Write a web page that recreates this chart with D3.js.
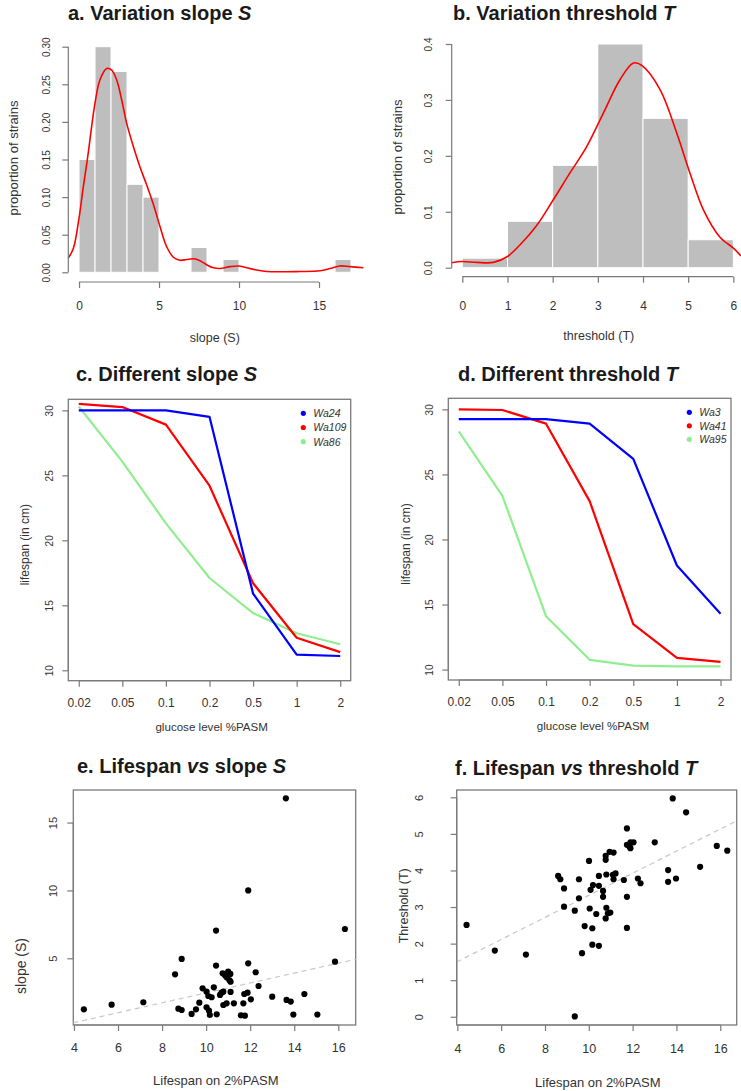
<!DOCTYPE html>
<html>
<head>
<meta charset="UTF-8" />
<title>slope S and threshold T</title>
<script src="https://d3js.org/d3.v7.min.js"></script>
<style>
body { margin: 0px; background: #fff; }
svg text { font-family: "Liberation Sans", Arial, Helvetica, sans-serif; }
</style>
</head>
<body>
<script>
// a. histogram + density of slope S
const slopeBinStart = [0, 1, 2, 3, 4, 5, 6, 7, 8, 9, 10, 11, 12, 13, 14, 15, 16];
const slopeProp = [0.150, 0.300, 0.267, 0.117, 0.100, 0, 0, 0.033, 0, 0.017, 0, 0, 0, 0, 0, 0, 0.017];
const slopeDensX = [-0.67, -0.35, 0, 0.27, 0.52, 1.0, 1.31, 1.73, 2.04, 2.35, 2.67, 2.98, 3.4, 3.81, 4.23, 4.65, 5.06, 5.48, 5.9, 6.31, 6.73, 7.15, 7.56, 7.98, 8.4, 8.8, 9.44, 9.96, 10.48, 11.1, 11.73, 13.8, 15.06, 15.69, 16.3, 16.94, 17.77];
const slopeDensY = [0.019, 0.032, 0.072, 0.114, 0.150, 0.225, 0.256, 0.271, 0.269, 0.256, 0.229, 0.198, 0.167, 0.140, 0.116, 0.090, 0.061, 0.034, 0.020, 0.016, 0.017, 0.018, 0.0155, 0.010, 0.006, 0.005, 0.0075, 0.0084, 0.006, 0.003, 0.001, 0.001, 0.002, 0.005, 0.0084, 0.0075, 0.006];
const slopeTicksX = [0, 5, 10, 15];
const slopeTicksY = [0, 0.05, 0.10, 0.15, 0.20, 0.25, 0.30];

// b. histogram + density of threshold T
const threshBinStart = [0, 1, 2, 3, 4, 5];
const threshProp = [0.017, 0.083, 0.183, 0.400, 0.267, 0.050];
const threshDensX = [-0.24, 0, 0.32, 0.69, 1.0, 1.28, 1.65, 2.01, 2.38, 2.75, 3.12, 3.49, 3.79, 4.0, 4.38, 4.75, 5.04, 5.34, 5.70, 6.0, 6.17];
const threshDensY = [0.009, 0.011, 0.0095, 0.0095, 0.020, 0.041, 0.076, 0.121, 0.169, 0.216, 0.276, 0.336, 0.366, 0.360, 0.318, 0.240, 0.169, 0.103, 0.055, 0.035, 0.021];
const threshTicksX = [0, 1, 2, 3, 4, 5, 6];
const threshTicksY = [0, 0.1, 0.2, 0.3, 0.4];

// c. / d. lifespan by glucose level
const glucose = ["0.02", "0.05", "0.1", "0.2", "0.5", "1", "2"];
const wa24 = [30.0, 30.0, 30.0, 29.5, 15.9, 11.2, 11.1];
const wa109 = [30.5, 30.25, 28.9, 24.2, 16.7, 12.5, 11.4];
const wa86 = [30.3, 26.05, 21.3, 17.1, 14.4, 12.85, 12.0];
const wa3 = [29.25, 29.25, 29.25, 28.9, 26.2, 18.0, 14.3];
const wa41 = [30.0, 29.95, 28.9, 22.95, 13.5, 10.9, 10.6];
const wa95 = [28.3, 23.35, 14.1, 10.75, 10.3, 10.25, 10.25];
const lifeTicks = [10, 15, 20, 25, 30];

// e. lifespan vs slope
const lifespanE = [4.45, 5.71, 7.15, 8.59, 8.89, 8.74, 8.89, 9.34, 9.54, 9.69, 9.84, 10.02, 10.1, 10.25, 10.02, 10.13, 10.17, 10.35, 10.48, 10.45, 10.45, 10.63, 10.7, 10.78, 10.75, 10.86, 11.0, 11.1, 10.93, 11.05, 11.11, 10.78, 10.93, 11.11, 11.26, 11.58, 11.76, 11.69, 11.73, 11.88, 11.91, 12.03, 12.25, 12.38, 13.0, 13.65, 13.84, 13.96, 14.46, 15.05, 15.85, 16.3, 11.91, 13.62];
const slopeE = [1.24, 1.58, 1.76, 3.82, 4.95, 1.29, 1.19, 0.90, 1.24, 1.73, 2.79, 2.54, 2.22, 2.13, 1.39, 1.14, 0.82, 2.86, 0.87, 4.46, 7.04, 2.30, 2.47, 2.54, 3.89, 3.75, 4.02, 3.85, 3.6, 3.40, 3.28, 1.56, 1.68, 2.52, 1.68, 0.80, 0.77, 1.68, 2.37, 2.47, 4.63, 1.98, 3.97, 2.96, 2.17, 1.93, 1.81, 0.85, 2.37, 0.85, 4.75, 7.16, 10.0, 16.79];
const fitE = [-1.2, 0.365];

// f. lifespan vs threshold
const lifespanF = [4.42, 5.71, 7.13, 8.6, 8.7, 8.87, 8.87, 9.36, 9.36, 9.55, 9.55, 9.69, 9.81, 10.01, 10.04, 10.08, 10.19, 10.16, 10.16, 10.34, 10.46, 10.46, 10.46, 10.65, 10.65, 10.77, 10.77, 10.8, 10.8, 10.87, 10.77, 10.98, 10.95, 11.13, 11.1, 11.22, 11.13, 11.6, 11.74, 11.74, 11.74, 11.74, 11.86, 11.9, 12.04, 11.9, 12.24, 12.36, 13.01, 13.62, 13.62, 13.98, 13.83, 14.44, 15.08, 15.84, 16.32];
const thresholdF = [2.51, 1.81, 1.70, 3.85, 3.76, 3.51, 3.01, 2.90, 0.01, 3.76, 3.24, 1.74, 2.48, 4.26, 2.96, 3.47, 3.60, 2.42, 1.97, 2.81, 3.85, 3.58, 1.94, 3.44, 3.28, 4.29, 4.40, 3.89, 2.98, 2.83, 2.69, 2.85, 4.51, 4.49, 3.88, 3.92, 3.76, 3.74, 5.15, 3.28, 2.43, 4.70, 4.65, 4.77, 4.77, 4.61, 3.78, 3.65, 4.77, 4.01, 3.69, 3.78, 5.97, 5.59, 4.10, 4.67, 4.54];
const fitF = [0.30, 0.302];
const lifeXTicks = [4, 6, 8, 10, 12, 14, 16];

const width = 741, height = 1091;
const axisColor = "#7a7a7a";
const textColor = "#333";

const svg = d3.select("body").append("svg").attr("width", width).attr("height", height);
svg.append("rect").attr("width", width).attr("height", height).attr("fill", "#fff");

let title = (x, y, parts) => {
    let t = svg.append("text").attr("x", x).attr("y", y)
        .attr("font-size", 20).attr("font-weight", "bold").attr("fill", "#1a1a1a");
    for (let [s, it] of parts) {
        t.append("tspan").text(s).attr("font-style", it ? "italic" : "normal");
    }
};

let xTitle = (x, y, txt, size) => {
    svg.append("text").attr("x", x).attr("y", y).attr("text-anchor", "middle")
        .attr("font-size", size).attr("fill", textColor).text(txt);
};

let yTitle = (x, y, txt, size) => {
    svg.append("text").attr("transform", `translate(${x},${y}) rotate(-90)`)
        .attr("text-anchor", "middle").attr("font-size", size).attr("fill", textColor).text(txt);
};

let bottomAxis = (scale, y, values, fmt, size, labelY) => {
    let g = svg.append("g").attr("transform", `translate(0,${y})`)
        .call(d3.axisBottom(scale).tickValues(values).tickFormat(fmt).tickSize(6).tickSizeOuter(0));
    // R draws the axis line only between first and last tick
    g.select(".domain").attr("d", `M${scale(values[0])},0H${scale(values[values.length - 1])}`)
        .attr("stroke", axisColor).attr("stroke-width", 1.2);
    g.selectAll(".tick line").attr("stroke", axisColor).attr("stroke-width", 1.2);
    g.selectAll(".tick text").attr("y", labelY).attr("dy", null)
        .attr("font-size", size).attr("fill", textColor);
};

let leftAxis = (scale, x, values, fmt, size, labelDx) => {
    let g = svg.append("g").attr("transform", `translate(${x},0)`)
        .call(d3.axisLeft(scale).tickValues(values).tickFormat(fmt).tickSize(6).tickSizeOuter(0));
    g.select(".domain").attr("d", `M0,${scale(values[0])}V${scale(values[values.length - 1])}`)
        .attr("stroke", axisColor).attr("stroke-width", 1.2);
    g.selectAll(".tick line").attr("stroke", axisColor).attr("stroke-width", 1.2);
    g.selectAll(".tick text").attr("x", null).attr("dy", null).attr("text-anchor", "middle")
        .attr("transform", `translate(${-labelDx},0) rotate(-90)`)
        .attr("font-size", size).attr("fill", textColor);
};

let box = (xs, ys) => {
    let [x0, x1] = xs.range();
    let [y0, y1] = ys.range();
    svg.append("rect").attr("x", x0).attr("y", y1).attr("width", x1 - x0).attr("height", y0 - y1)
        .attr("fill", "none").attr("stroke", axisColor).attr("stroke-width", 1.3);
};

// ---------- histograms ----------
let histPanel = (xs, ys, bins, props, densX, densY) => {
    svg.append("g").selectAll("rect")
        .data(bins.map((b, i) => ({b, p: props[i]})).filter(d => d.p > 0))
        .join("rect")
        .attr("x", d => xs(d.b))
        .attr("width", d => xs(d.b + 1) - xs(d.b))
        .attr("y", d => ys(d.p))
        .attr("height", d => ys(0) - ys(d.p))
        .attr("fill", "#bebebe").attr("stroke", "#fff").attr("stroke-width", 1);

    let line = d3.line().x(d => xs(d[0])).y(d => ys(d[1])).curve(d3.curveCatmullRom);
    svg.append("path").attr("d", line(d3.zip(densX, densY)))
        .attr("fill", "none").attr("stroke", "#ff0000").attr("stroke-width", 1.6);
};

// a
let xa = d3.scaleLinear().domain([-0.67, 17.8]).range([68.3, 363.8]);
let ya = d3.scaleLinear().domain([0, 0.30]).range([272.3, 46.7]);
histPanel(xa, ya, slopeBinStart, slopeProp, slopeDensX, slopeDensY);
leftAxis(ya, 68.3, slopeTicksY, d3.format(".2f"), 10, 18);
bottomAxis(xa, 282, slopeTicksX, d3.format("d"), 12, 28);
title(68, 20, [["a. Variation slope ", false], ["S", true]]);
xTitle(214.8, 342, "slope (S)", 12.5);
yTitle(18.3, 158, "proportion of strains", 13);

// b
let xb = d3.scaleLinear().domain([-0.235, 6.28]).range([451.7, 746]);
let yb = d3.scaleLinear().domain([0, 0.4]).range([267.7, 44]);
histPanel(xb, yb, threshBinStart, threshProp, threshDensX, threshDensY);
leftAxis(yb, 451.7, threshTicksY, d3.format(".1f"), 10, 20);
bottomAxis(xb, 276.7, threshTicksX, d3.format("d"), 12, 33);
title(453, 20, [["b. Variation threshold ", false], ["T", true]]);
xTitle(598.8, 340, "threshold (T)", 12.5);
yTitle(401.7, 157, "proportion of strains", 13);

// ---------- glucose line panels ----------
let linePanel = (x0, x1, y0, y1, series, names, legendX, legendY, legendStep) => {
    let xs = d3.scalePoint().domain(glucose).range([x0, x1]).padding(0.24);
    let ys = d3.scaleLinear().domain([9.2, 30.85]).range([y1, y0]);
    let colors = ["#0000ff", "#ff0000", "#90ee90"];
    box(xs, ys);
    let line = d3.line().x((d, i) => xs(glucose[i])).y(d => ys(d));
    // draw green first so red/blue sit on top
    [2, 1, 0].forEach(k => {
        svg.append("path").attr("d", line(series[k]))
            .attr("fill", "none").attr("stroke", colors[k]).attr("stroke-width", 2.2)
            .attr("stroke-linejoin", "round");
    });
    names.forEach((n, k) => {
        svg.append("circle").attr("cx", legendX).attr("cy", legendY + k * legendStep).attr("r", 2.6)
            .attr("fill", colors[k]);
        svg.append("text").attr("x", legendX + 10).attr("y", legendY + k * legendStep + 3.8)
            .attr("font-size", 10.5).attr("font-style", "italic").attr("fill", textColor).text(n);
    });
    leftAxis(ys, x0, lifeTicks, d3.format("d"), 10, 15);
    bottomAxis(xs, y1, glucose, d => d, 12, 26);
    return xs;
};

// c
linePanel(68.3, 350.7, 399.3, 680.7, [wa24, wa109, wa86], ["Wa24", "Wa109", "Wa86"], 303.3, 413.3, 14.2);
title(76, 381, [["c. Different slope ", false], ["S", true]]);
xTitle(211.7, 730.7, "glucose level %PASM", 11.6);
yTitle(29.3, 544.7, "lifespan (in cm)", 12);

// d
linePanel(448.3, 731, 398.3, 680, [wa3, wa41, wa95], ["Wa3", "Wa41", "Wa95"], 689.3, 412.3, 13.5);
title(458, 381, [["d. Different threshold ", false], ["T", true]]);
xTitle(593, 730, "glucose level %PASM", 11.6);
yTitle(410, 544, "lifespan (in cm)", 12);

// ---------- scatter panels ----------
let scatterPanel = (xs, ys, lx, ly, fit) => {
    box(xs, ys);
    let [d0, d1] = xs.domain();
    svg.append("line")
        .attr("x1", xs(d0)).attr("y1", ys(fit[0] + fit[1] * d0))
        .attr("x2", xs(d1)).attr("y2", ys(fit[0] + fit[1] * d1))
        .attr("stroke", "#c8c8c8").attr("stroke-width", 1.2).attr("stroke-dasharray", "5,4");
    svg.append("g").selectAll("circle")
        .data(d3.zip(lx, ly))
        .join("circle")
        .attr("cx", d => xs(d[0])).attr("cy", d => ys(d[1])).attr("r", 3.1)
        .attr("fill", "#000");
};

// e
let xe = d3.scaleLinear().domain([3.97, 16.79]).range([73.3, 355.7]);
let ye = d3.scaleLinear().domain([0.085, 17.4]).range([1025, 790]);
scatterPanel(xe, ye, lifespanE, slopeE, fitE);
leftAxis(ye, 73.3, [5, 10, 15], d3.format("d"), 11, 16);
bottomAxis(xe, 1025, lifeXTicks, d3.format("d"), 12.5, 26.7);
title(77, 773, [["e. Lifespan ", false], ["vs", true], [" slope ", false], ["S", true]]);
xTitle(215.8, 1085, "Lifespan on 2%PASM", 13);
yTitle(26, 966, "slope (S)", 14);

// f
let xf = d3.scaleLinear().domain([3.97, 16.75]).range([456.7, 736.7]);
let yf = d3.scaleLinear().domain([-0.225, 6.2]).range([1025, 790]);
scatterPanel(xf, yf, lifespanF, thresholdF, fitF);
leftAxis(yf, 456.7, [0, 1, 2, 3, 4, 5, 6], d3.format("d"), 11, 34);
bottomAxis(xf, 1025, lifeXTicks, d3.format("d"), 12.5, 28);
title(455, 775, [["f. Lifespan ", false], ["vs", true], [" threshold ", false], ["T", true]]);
xTitle(597.8, 1087, "Lifespan on 2%PASM", 13);
yTitle(408.3, 905.8, "Threshold (T)", 12.5);
</script>
</body>
</html>
